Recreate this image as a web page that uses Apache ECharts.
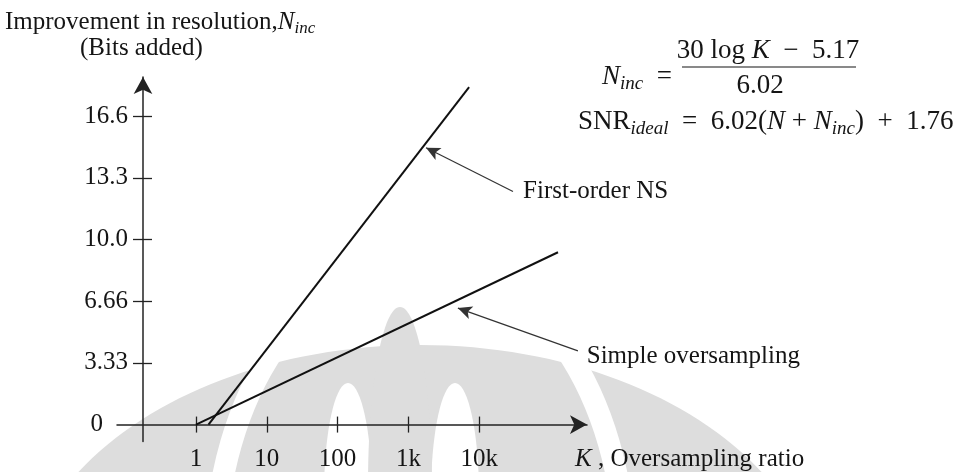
<!DOCTYPE html>
<html><head><meta charset="utf-8">
<script src="https://cdn.jsdelivr.net/npm/echarts@6/dist/echarts.min.js"></script>
<style>html,body{margin:0;padding:0;background:#fff}#c{width:960px;height:472px}</style>
</head><body><div id="c"></div>
<script>
// ---- data ----
const xTickValues = [1, 10, 100, 1000, 10000];
const xTickLabels = ['1', '10', '100', '1k', '10k'];
const yTickValues = [0, 3.33, 6.66, 10.0, 13.3, 16.6];
const yTickLabels = ['0', '3.33', '6.66', '10.0', '13.3', '16.6'];
const firstOrderNS = [[1.5, 0], [7200, 18.2]];
const simpleOversampling = [[1, 0], [129700, 9.29]];
const nsArrow = [[30000, 12.57], [1775, 14.93]];
const soArrow = [[248000, 3.97], [5000, 6.28]];
const nsLabelAt = [41600, 12.57];
const soLabelAt = [330000, 3.7];

const serif = "'Liberation Serif', 'Times New Roman', serif";
const ink = '#151515';
const FS = 25;
const MF = 27;
const richBase = {
  n: {fontSize: FS, fontFamily: serif, color: ink, lineHeight: 30, verticalAlign: 'middle'},
  i: {fontSize: FS, fontFamily: serif, fontStyle: 'italic', color: ink, lineHeight: 30, verticalAlign: 'middle'},
  sub: {fontSize: 17, fontFamily: serif, fontStyle: 'italic', color: ink, lineHeight: 14, verticalAlign: 'bottom'}
};
const richMath = {
  n: {fontSize: MF, fontFamily: serif, color: ink, lineHeight: 32, verticalAlign: 'middle'},
  i: {fontSize: MF, fontFamily: serif, fontStyle: 'italic', color: ink, lineHeight: 32, verticalAlign: 'middle'},
  sub: {fontSize: 19, fontFamily: serif, fontStyle: 'italic', color: ink, lineHeight: 14, verticalAlign: 'bottom'}
};

const xMin = 0.0766, xMax = 333000, yMin = -0.91, yMax = 18.74;

function yLabel(v) {
  let best = 0;
  yTickValues.forEach((t, k) => { if (Math.abs(t - v) < Math.abs(yTickValues[best] - v)) best = k; });
  return best === 0 ? '{z|' + yTickLabels[0] + '}' : yTickLabels[best];
}
function xLabel(v) {
  let best = 0;
  xTickValues.forEach((t, k) => { if (Math.abs(Math.log10(t) - Math.log10(v)) < Math.abs(Math.log10(xTickValues[best]) - Math.log10(v))) best = k; });
  return xTickLabels[best];
}

const axisLineStyle = {color: '#222', width: 1.5};
const tickStyle = {color: '#222', width: 1.3};
const wm = '#dddddd';

const chart = echarts.init(document.getElementById('c'), null, {renderer: 'canvas'});
const option = {
  animation: false,
  backgroundColor: '#fff',
  grid: {left: 117, right: 373, top: 77, bottom: 29, containLabel: false},
  xAxis: [
    {
      type: 'log', logBase: 10, min: xMin, max: xMax, position: 'bottom',
      axisLine: {show: true, onZero: true, symbol: ['none', 'arrow'], symbolSize: [14, 17], lineStyle: axisLineStyle},
      axisTick: {show: true, customValues: xTickValues, length: 8, lineStyle: tickStyle},
      axisLabel: {show: true, customValues: xTickValues, formatter: xLabel, margin: 5, fontSize: FS, fontFamily: serif, color: ink},
      splitLine: {show: false}, minorTick: {show: false}, minorSplitLine: {show: false},
      name: '{i|K} , Oversampling ratio', nameLocation: 'end', nameGap: -12,
      nameTextStyle: {align: 'left', verticalAlign: 'top', padding: [20, 0, 0, 0], fontSize: FS, fontFamily: serif, color: ink, rich: richBase}
    },
    {
      type: 'log', logBase: 10, min: xMin, max: xMax, position: 'bottom',
      axisLine: {show: false, onZero: true},
      axisTick: {show: true, inside: true, customValues: xTickValues, length: 8, lineStyle: tickStyle},
      axisLabel: {show: false}, splitLine: {show: false}
    }
  ],
  yAxis: [
    {
      type: 'value', min: yMin, max: yMax, position: 'left', offset: -26,
      axisLine: {show: true, onZero: false, symbol: ['none', 'arrow'], symbolSize: [14, 17], lineStyle: axisLineStyle},
      axisTick: {show: true, customValues: yTickValues.slice(1), length: 10, lineStyle: tickStyle},
      axisLabel: {show: true, customValues: yTickValues, formatter: yLabel, margin: 15, fontSize: FS, fontFamily: serif, color: ink,
        rich: {z: {fontSize: FS, fontFamily: serif, color: ink, padding: [0, 25, 0, 0]}}},
      splitLine: {show: false}
    },
    {
      type: 'value', min: yMin, max: yMax, position: 'left', offset: -26,
      axisLine: {show: false, onZero: false},
      axisTick: {show: true, inside: true, customValues: yTickValues.slice(1), length: 9, lineStyle: tickStyle},
      axisLabel: {show: false}, splitLine: {show: false}
    }
  ],
  series: [
    {
      name: 'First-order NS', type: 'line', xAxisIndex: 0, yAxisIndex: 0, data: firstOrderNS,
      showSymbol: false, symbol: 'none', lineStyle: {color: '#111', width: 2}, z: 5,
      markLine: {silent: true, symbol: ['none', 'arrow'], symbolSize: [10, 14], label: {show: false},
        lineStyle: {color: '#333', width: 1.2, type: 'solid'},
        data: [[{coord: nsArrow[0]}, {coord: nsArrow[1]}]]},
      markPoint: {silent: true, symbol: 'circle', symbolSize: 0,
        label: {show: true, position: 'right', distance: 0, formatter: 'First-order NS', fontSize: FS, fontFamily: serif, color: ink},
        data: [{coord: nsLabelAt}]}
    },
    {
      name: 'Simple oversampling', type: 'line', xAxisIndex: 0, yAxisIndex: 0, data: simpleOversampling,
      showSymbol: false, symbol: 'none', lineStyle: {color: '#111', width: 2}, z: 5,
      markLine: {silent: true, symbol: ['none', 'arrow'], symbolSize: [10, 14], label: {show: false},
        lineStyle: {color: '#333', width: 1.2, type: 'solid'},
        data: [[{coord: soArrow[0]}, {coord: soArrow[1]}]]},
      markPoint: {silent: true, symbol: 'circle', symbolSize: 0,
        label: {show: true, position: 'right', distance: 0, formatter: 'Simple oversampling', fontSize: FS, fontFamily: serif, color: ink},
        data: [{coord: soLabelAt}]}
    }
  ],
  graphic: [
    // watermark (background decoration)
    {type: 'group', silent: true, z: -10, children: [
      {type: 'ellipse', shape: {cx: 420, cy: 610, rx: 400, ry: 265}, style: {fill: wm}},
      {type: 'ellipse', shape: {cx: 420, cy: 560, rx: 205, ry: 300}, style: {fill: 'none', stroke: '#fff', lineWidth: 22}},
      {type: 'ellipse', shape: {cx: 348, cy: 495, rx: 24, ry: 112}, style: {fill: '#fff'}},
      {type: 'ellipse', shape: {cx: 455, cy: 495, rx: 24, ry: 112}, style: {fill: '#fff'}},
      {type: 'ellipse', shape: {cx: 400, cy: 485, rx: 32, ry: 178}, style: {fill: wm}}
    ]},
    // y-axis title
    {type: 'text', x: 5, y: 22, style: {text: 'Improvement in resolution,{i|N}{sub|inc}', rich: richBase,
      fontSize: FS, fontFamily: serif, fill: ink, align: 'left', verticalAlign: 'middle', textAlign: 'left', textVerticalAlign: 'middle'}},
    {type: 'text', x: 80, y: 48, style: {text: '(Bits added)', fontSize: FS, fontFamily: serif, fill: ink,
      align: 'left', verticalAlign: 'middle', textAlign: 'left', textVerticalAlign: 'middle'}},
    // formula 1
    {type: 'text', x: 672, y: 77, style: {text: '{i|N}{sub|inc}{n|  =}', rich: richMath, fontSize: MF, fontFamily: serif, fill: ink,
      align: 'right', verticalAlign: 'middle', textAlign: 'right', textVerticalAlign: 'middle'}},
    {type: 'text', x: 768, y: 51, style: {text: '{n|30 log }{i|K}{n|  \u2212  5.17}', rich: richMath, fontSize: MF, fontFamily: serif, fill: ink,
      align: 'center', verticalAlign: 'middle', textAlign: 'center', textVerticalAlign: 'middle'}},
    {type: 'line', shape: {x1: 682, y1: 67, x2: 856, y2: 67}, style: {stroke: ink, lineWidth: 1.2}},
    {type: 'text', x: 760, y: 86, style: {text: '6.02', fontSize: MF, fontFamily: serif, fill: ink,
      align: 'center', verticalAlign: 'middle', textAlign: 'center', textVerticalAlign: 'middle'}},
    // formula 2
    {type: 'text', x: 578, y: 122, style: {text: '{n|SNR}{sub|ideal}{n|  =  6.02(}{i|N}{n| + }{i|N}{sub|inc}{n|)  +  1.76}', rich: richMath,
      fontSize: MF, fontFamily: serif, fill: ink, align: 'left', verticalAlign: 'middle', textAlign: 'left', textVerticalAlign: 'middle'}}
  ]
};
chart.setOption(option);
</script>
</body></html>
